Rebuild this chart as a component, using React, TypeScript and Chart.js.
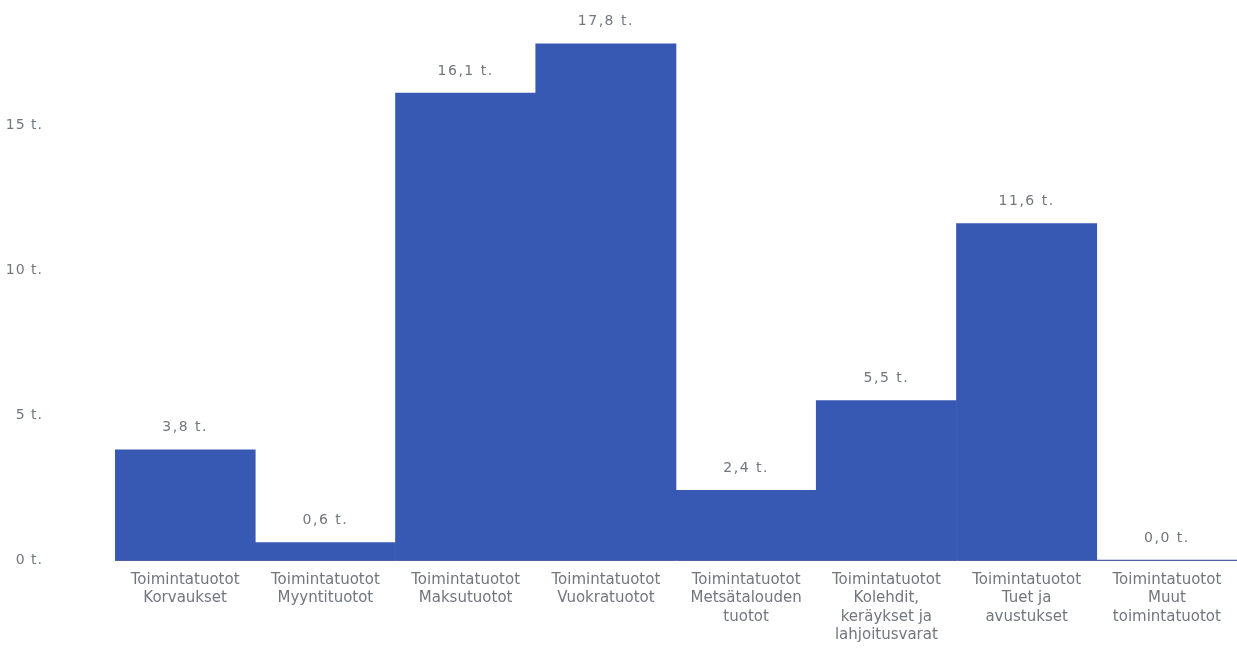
import React, { useEffect, useRef } from "react";
import { Chart, registerables } from "chart.js";

Chart.register(...registerables);

const categories: string[][] = [
  ["Toimintatuotot", "Korvaukset"],
  ["Toimintatuotot", "Myyntituotot"],
  ["Toimintatuotot", "Maksutuotot"],
  ["Toimintatuotot", "Vuokratuotot"],
  ["Toimintatuotot", "Metsätalouden", "tuotot"],
  ["Toimintatuotot", "Kolehdit,", "keräykset ja", "lahjoitusvarat"],
  ["Toimintatuotot", "Tuet ja", "avustukset"],
  ["Toimintatuotot", "Muut", "toimintatuotot"],
];
const values: number[] = [3.8, 0.6, 16.1, 17.8, 2.4, 5.5, 11.6, 0.0];
const tickValues: number[] = [0, 5, 10, 15];

const fmt = (v: number) => v.toFixed(1).replace(".", ",") + " t.";

const BAR = "#3859b3";
const TEXT = "#72767e";

export default function App() {
  const ref = useRef<HTMLCanvasElement | null>(null);
  useEffect(() => {
    if (!ref.current) return;
    const labelPlugin = {
      id: "valueLabels",
      afterUpdate(chart: any) {
        const y = chart.scales.y;
        if (y && !y._wrappedLS) {
          const orig = y.drawLabels.bind(y);
          y.drawLabels = (area: any) => {
            const ctx = chart.ctx;
            ctx.save();
            (ctx as any).letterSpacing = "1px";
            orig(area);
            ctx.restore();
          };
          y._wrappedLS = true;
        }
      },
      afterDatasetsDraw(chart: any) {
        const ctx = chart.ctx;
        const meta = chart.getDatasetMeta(0);
        ctx.save();
        ctx.font = "14px 'DejaVu Sans'";
        (ctx as any).letterSpacing = "1.5px";
        ctx.fillStyle = TEXT;
        ctx.textAlign = "center";
        ctx.textBaseline = "middle";
        meta.data.forEach((bar: any, i: number) => {
          ctx.fillText(fmt(values[i]), bar.x, bar.y - 22);
        });
        ctx.restore();
      },
    };
    const chart = new Chart(ref.current, {
      type: "bar",
      data: {
        labels: categories,
        datasets: [
          {
            data: values,
            backgroundColor: BAR,
            borderWidth: 0,
            categoryPercentage: 1,
            barPercentage: 1,
          },
        ],
      },
      options: {
        animation: false,
        responsive: false,
        maintainAspectRatio: false,
        layout: { padding: { top: 38, right: 0, left: 0, bottom: 0 } },
        plugins: { legend: { display: false }, tooltip: { enabled: false } },
        scales: {
          x: {
            grid: { display: false, drawTicks: false },
            border: { display: true, color: "#4c63a3", width: 1 },
            ticks: {
              color: TEXT,
              font: { family: "'DejaVu Sans'", size: 15, lineHeight: 1.22 },
              padding: 11,
              maxRotation: 0,
              autoSkip: false,
            },
            afterFit: (s: any) => {
              s.height = 99;
            },
          },
          y: {
            min: 0,
            max: 18,
            grid: { display: false, drawTicks: false },
            border: { display: false },
            ticks: {
              color: TEXT,
              font: { family: "'DejaVu Sans'", size: 14 },
              padding: 72,
              stepSize: 5,
              callback: (v: any) => v + " t.",
            },
            afterBuildTicks: (s: any) => {
              s.ticks = tickValues.map((v) => ({ value: v }));
            },
            afterFit: (s: any) => {
              s.width = 115;
              s.paddingTop = 0;
              s.paddingBottom = 0;
            },
          },
        },
      },
      plugins: [labelPlugin],
    });
    return () => chart.destroy();
  }, []);
  return (
    <div style={{ position: "fixed", left: 0, top: 0, width: 1237, height: 659, background: "#fff" }}>
      <canvas ref={ref} width={1237} height={659} style={{ width: 1237, height: 659, display: "block" }} />
    </div>
  );
}
